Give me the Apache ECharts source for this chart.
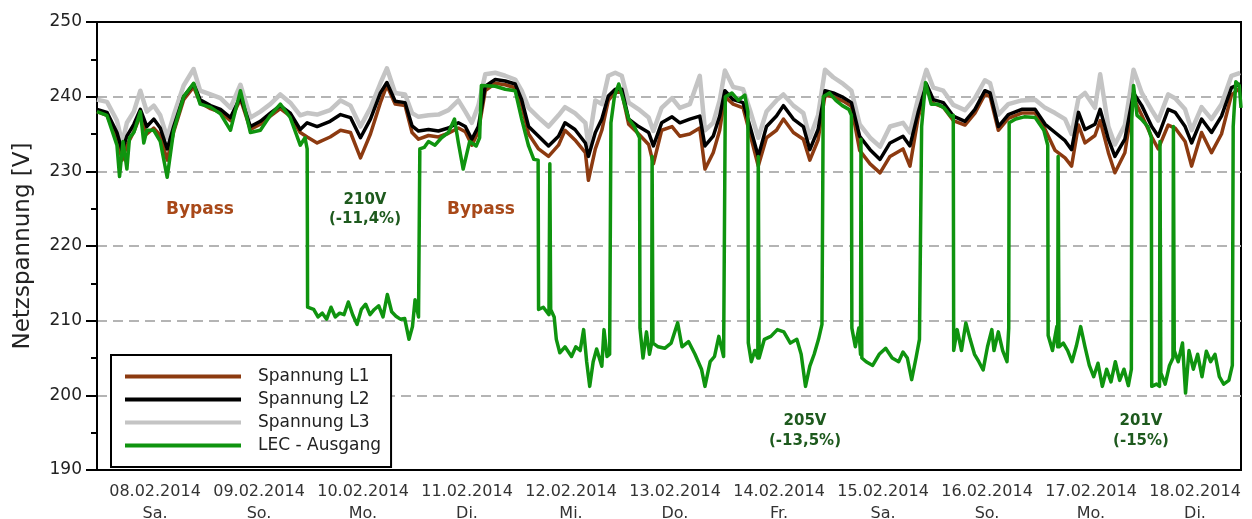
<!DOCTYPE html>
<html>
<head>
<meta charset="utf-8">
<script src="https://cdn.jsdelivr.net/npm/echarts@6/dist/echarts.min.js"></script>
<style>
  html, body { margin: 0; padding: 0; background: #fff; }
  #chart { width: 1252px; height: 519px; }
</style>
</head>
<body>
<div id="chart"></div>
<script>
// hours since 08.02.2014 00:00
const hours = [0, 2.3, 4.6, 5.8, 6.9, 8.5, 10, 11.5, 13.1, 14.6, 16.2, 17.7, 20, 22.3, 23.8, 26.2, 28.5, 30.8, 33.1, 35.4,
  37.7, 40, 42.3, 44.6, 46.9, 48.5, 50.8, 53.8, 56.2, 58.5, 60.8, 63.1, 65.4, 66.9, 68.8, 71.1, 72.7, 74.2, 76.5, 78.8,
  81.1, 83.4, 85, 86.5, 88, 89.6, 91.9, 94.2, 96.5, 98, 99.6, 101.9, 104.2, 106.5, 108, 110.3, 112.7, 113.4, 115, 116.5,
  118, 119.6, 121.1, 122.7, 125, 127.3, 128.4, 130.3, 132.7, 134.5, 136.8, 139.1, 140.3, 142.2, 143.7, 144.9, 146.8, 149.1, 150.7, 152.6,
  154.5, 156.8, 158.4, 160.7, 163, 164.5, 166.4, 168, 169.9, 172.2, 174.1, 176, 178.4, 180.7, 183, 186, 187.6, 189.5, 191.4, 193,
  195.3, 197.6, 200.3, 202.6, 204.9, 206.1, 208, 210.3, 213.4, 216.5, 218.8, 221.1, 223.4, 224.9, 226.5, 228, 230.3, 231.5, 233.4, 234.9,
  237.2, 239.2, 241.1, 243.4, 244.9, 247.2, 248.8, 251.1, 252.6, 254.9, 257.2, 259.5, 261.8, 263.8]

const l1 = [238.0, 237.5, 234.5, 231.5, 233.5, 235.3, 237.5, 235, 235.8, 234.8, 231.5, 235.3, 239.6, 241.3, 239.2, 238.4, 237.9, 236.8, 239.7, 235.6,
  236.3, 237.4, 238.4, 237.4, 235.2, 234.6, 233.8, 234.6, 235.5, 235.2, 231.8, 235, 239.2, 241.5, 239, 238.8, 235.2, 234.3, 234.8, 234.6,
  235.1, 235.8, 235.3, 233.5, 235.3, 240.8, 241.8, 241.6, 241.2, 238.8, 235, 233, 232, 233.5, 235.5, 234.2, 232.5, 228.8, 233, 235.5,
  239.5, 240.6, 240.6, 236.3, 235, 233.6, 231, 235.5, 236, 234.7, 235, 235.8, 230.3, 232.5, 235.5, 240, 239, 238.5, 235, 230.7,
  234.5, 235.5, 237, 235.2, 234.3, 231.5, 234.2, 240.2, 240, 239.4, 238.7, 232.8, 231, 229.8, 232, 233, 230.7, 237.2, 241.2, 239.1,
  238.6, 236.8, 236.2, 237.8, 240.3, 240, 235.5, 237.1, 237.8, 237.8, 235.6, 232.8, 231.8, 230.7, 236.2, 233.8, 234.8, 236.8, 232.5, 229.8,
  232.5, 239.8, 237.5, 234.6, 233, 236.2, 235.8, 234, 230.7, 235.2, 232.5, 235, 240.2, 241.2]

const l2 = [238.3, 237.9, 235.2, 232.8, 234.7, 236.3, 238.3, 236, 237, 235.8, 233, 236, 240, 241.7, 239.6, 238.8, 238.3, 237.2, 240, 236,
  236.7, 237.8, 238.8, 237.8, 235.6, 236.5, 236, 236.7, 237.6, 237.2, 234.5, 237, 240.5, 241.9, 239.4, 239.2, 236.1, 235.4, 235.6, 235.4,
  235.8, 236.5, 236, 234.3, 236, 241.4, 242.3, 242.1, 241.7, 239.6, 236, 234.7, 233.4, 234.7, 236.5, 235.6, 233.8, 232, 235.2, 237,
  240.1, 241, 241, 237, 236, 235.2, 233.4, 236.5, 237.3, 236.5, 237, 237.4, 233.4, 234.7, 237.4, 240.8, 239.6, 239.2, 236, 232,
  236, 237.4, 238.8, 237, 236, 232.9, 235.6, 240.8, 240.5, 239.9, 239.2, 234.7, 232.9, 231.6, 233.8, 234.7, 233.4, 237.9, 241.7, 239.6,
  239.2, 237.4, 236.7, 238.3, 240.8, 240.5, 236, 237.6, 238.3, 238.3, 236.3, 235.2, 234.1, 232.9, 237.9, 235.6, 236.3, 238.3, 234.3, 232,
  234.3, 240.5, 238.8, 236, 234.7, 238.3, 237.9, 236, 233.8, 237, 235.2, 237.4, 241.2, 241.7]

const l3 = [239.6, 239.3, 236.8, 233.8, 236.5, 238.0, 240.8, 238, 238.8, 237.5, 234.5, 237.5, 241.5, 243.7, 240.8, 240.3, 239.8, 238.5, 241.6, 237.2,
  238, 239, 240.3, 239.2, 237.5, 237.8, 237.6, 238.2, 239.5, 238.8, 236, 238.5, 241.8, 243.8, 240.5, 240.3, 237.8, 237.3, 237.5, 237.6,
  238.2, 239.5, 238, 236.5, 238.8, 243, 243.2, 242.8, 242.3, 240.8, 238.5, 237.2, 236, 237.5, 238.6, 237.8, 236.5, 233.5, 239.5, 239,
  242.8, 243.2, 242.8, 239.2, 238.3, 237.2, 235.4, 238.5, 239.8, 238.5, 239, 242.8, 235.5, 236.5, 239.5, 243.5, 241.3, 241, 238.2, 234.5,
  238, 239.5, 240.3, 238.8, 237.8, 234.5, 237.5, 243.6, 242.6, 241.7, 240.8, 236.3, 234.5, 233.3, 236, 236.5, 235.2, 239.8, 243.6, 241.2,
  240.8, 238.9, 238.2, 239.8, 242.2, 241.8, 237.6, 239, 239.5, 239.6, 238.5, 237.8, 237, 235, 239.8, 240.5, 238.5, 243, 236, 233.6,
  236.2, 243.6, 240.5, 238.2, 236.8, 240.3, 239.8, 238.3, 235.5, 238.6, 237, 239, 242.8, 243.2]

const lecHours = [0, 2.3, 4.6, 5.2, 6, 6.9, 7.5, 8.5, 10, 10.8, 11.5, 13.1, 14.6, 16.2, 17.7, 20, 22.3, 23.8, 26.2, 28.5,
  30.8, 33.1, 35.4, 37.7, 40, 42.3, 44.6, 46.9, 48, 48.5, 48.6, 50, 51, 52, 53, 54, 55, 56, 57, 58,
  59, 60, 61, 62, 63, 64, 65, 66, 67, 68, 69, 70, 71, 72, 72.8, 73.4, 74.2, 74.5, 75.5, 76.5,
  78, 79.5, 81.1, 82.5, 83.4, 84.5, 86, 87.5, 88.3, 88.7, 91.9, 94.2, 96.5, 98, 99.6, 100.8, 101.8, 101.9, 103, 104.3,
  104.5, 104.7, 105.5, 106, 106.8, 108, 109.5, 110.5, 111.5, 112.3, 113, 113.7, 114.5, 115.3, 116.5, 117, 117.7, 118.3, 118.6, 119.4,
  120.4, 121.5, 122.7, 124, 125.2, 125.3, 126, 126.8, 127.5, 128, 128.1, 128.3, 129.5, 131, 132.5, 134, 135, 136.5, 138, 139.5,
  140.3, 141.5, 142.5, 143.5, 144.6, 145, 146.5, 148, 149.5, 150.2, 150.3, 151, 151.8, 152.5, 152.6, 152.8, 154, 155.5, 157, 158.5,
  160, 161.5, 162.5, 163.5, 164.5, 165.5, 166.5, 167.3, 167.6, 169, 170.5, 172, 173.5, 174.1, 174.2, 175, 175.8, 176.2, 176.3, 176.5,
  177.5, 179, 180.5, 182, 183.5, 185, 186, 187, 188, 189, 189.8, 190.3, 191.2, 192.5, 194, 195.5, 197, 197.6, 197.7, 198.5,
  199.5, 200.5, 201.5, 202.5, 203.5, 204.5, 205.5, 206.5, 207, 208, 209, 210, 210.4, 210.5, 212, 214, 216.5, 218.5, 219.4, 219.5,
  220.5, 221.5, 221.7, 221.8, 222, 223, 224, 225, 226, 227, 228, 229, 230, 231, 232, 233, 234, 235, 236, 237,
  238, 238.7, 238.8, 239.2, 240, 241, 242.5, 243.3, 243.4, 244.5, 245.2, 245.3, 245.5, 246.5, 247.5, 248.3, 248.4, 248.6, 249.5, 250.5,
  251.2, 252, 253, 254, 255, 256, 257, 258, 259, 260, 261.2, 262, 262.2, 262.8, 263.6, 264]

const lec = [238, 237.5, 233.5, 229.3, 234, 230.3, 234.5, 235.2, 238, 233.8, 235.5, 235.5, 234, 229.2, 235.5, 240, 241.8, 239, 238.6, 237.7,
  235.5, 240.8, 235.2, 235.5, 237.5, 239, 237.2, 233.5, 234.5, 233, 211.8, 211.5, 210.5, 211, 210.2, 211.8, 210.5, 211, 210.8, 212.5,
  210.8, 209.5, 211.5, 212.2, 210.8, 211.5, 212, 210.5, 213.5, 211.2, 210.6, 210.2, 210.3, 207.5, 209.2, 212.8, 210.5, 233, 233.2, 234,
  233.5, 234.5, 235.2, 237, 233.8, 230.3, 234, 233.4, 234.5, 241.5, 241.4, 241, 240.8, 237, 233.4, 231.6, 231.5, 211.5, 211.8, 210.8,
  231, 211.5, 210.5, 207.5, 205.7, 206.5, 205.2, 206.5, 206, 208.8, 204.5, 201.2, 204.5, 206.2, 203.9, 208.8, 205.2, 205.5, 236.5, 240,
  241.7, 239.5, 237, 236, 234.5, 209, 205, 208.5, 205.5, 207, 232, 207, 206.5, 206.3, 207, 209.7, 206.5, 207.2, 205.5, 203.5,
  201.2, 204.5, 205.2, 207.9, 205.2, 240, 240.5, 239.5, 240.2, 238, 207, 204.5, 206, 205, 232, 205, 207.5, 207.9, 208.8, 208.5,
  207, 207.5, 205.5, 201.2, 203.9, 205.5, 207.5, 209.5, 240, 240.5, 239.5, 238.8, 238.3, 237.5, 209, 206.5, 209, 205.5, 234.3, 205,
  204.5, 204, 205.5, 206.3, 205, 204.5, 205.8, 205, 202.1, 205, 207.5, 236, 241.9, 239, 239, 238.5, 237.4, 237.5, 206, 208.8,
  206, 209.7, 207.5, 205.5, 204.5, 203.4, 206.5, 208.8, 206, 208.5, 206, 204.5, 209, 236.5, 237, 237.3, 237.2, 235.5, 233.5, 208,
  206, 209.2, 206.5, 232, 206.5, 207, 206, 204.5, 206.6, 209.2, 206.5, 204, 202.5, 204.3, 201.2, 203.5, 201.8, 204.5, 202, 203.5,
  201.3, 203.5, 237, 241.5, 237.5, 237, 236, 234.5, 201.2, 201.5, 201.2, 234, 203, 201.5, 204, 205, 236, 206, 204.5, 207,
  200.3, 206, 203.5, 205.5, 202.5, 205.9, 204.5, 205.5, 202.5, 201.5, 202, 204, 236, 242, 241.5, 238.5]

const dayLabels = ['08.02.2014', '09.02.2014', '10.02.2014', '11.02.2014', '12.02.2014', '13.02.2014',
  '14.02.2014', '15.02.2014', '16.02.2014', '17.02.2014', '18.02.2014']
const weekdays = ['Sa.', 'So.', 'Mo.', 'Di.', 'Mi.', 'Do.', 'Fr.', 'Sa.', 'So.', 'Mo.', 'Di.']

const FONT = 'DejaVu Sans'
const chart = echarts.init(document.getElementById('chart'))

function line(name, x, y, color, width, z) {
  return {
    name, type: 'line', xAxisIndex: 0, z,
    data: x.map((h, i) => [h, y[i]]),
    symbol: 'none', animation: false,
    lineStyle: { color, width, join: 'round' }, itemStyle: { color }
  }
}

const annoGreen = '#1e5a1e'
const annoBrown = '#a84818'
function label(text, x, y, color, size) {
  return { type: 'text', x, y, style: { text, fill: color, font: 'bold ' + size + 'px "DejaVu Sans"', align: 'center', verticalAlign: 'middle' }, z: 10 }
}

chart.setOption({
  animation: false,
  grid: {
    left: 97, right: 11, top: 22, bottom: 49, outerBoundsMode: 'none',
    show: true, borderColor: '#000', borderWidth: 2
  },
  legend: {
    orient: 'vertical', left: 111, top: 355,
    data: ['Spannung L1', 'Spannung L2', 'Spannung L3', 'LEC - Ausgang'],
    icon: 'rect', itemWidth: 116, itemHeight: 4, itemGap: 4,
    padding: [12, 10, 12, 14],
    backgroundColor: '#fff', borderColor: '#000', borderWidth: 2,
    textStyle: { fontFamily: FONT, fontSize: 17, color: '#222', lineHeight: 19, padding: [0, 0, 0, 12] }
  },
  xAxis: [
    {
      type: 'value', min: 0, max: 264, interval: 24,
      axisLine: { lineStyle: { color: '#000', width: 2 } },
      axisTick: { show: false }, axisLabel: { show: false }, splitLine: { show: false }
    },
    {
      type: 'category', position: 'bottom', data: dayLabels, boundaryGap: true,
      axisLine: { show: false }, axisTick: { show: false },
      axisLabel: {
        interval: 0, margin: 11, fontFamily: FONT, fontSize: 16, color: '#333', lineHeight: 22,
        padding: [0, 0, 0, 12],
        formatter: (v, i) => v + '\n' + weekdays[i]
      }
    }
  ],
  yAxis: {
    type: 'value', min: 190, max: 250, interval: 10,
    name: 'Netzspannung [V]', nameLocation: 'middle', nameGap: 62,
    nameTextStyle: { fontFamily: FONT, fontSize: 23, color: '#222' },
    axisLine: { show: true, lineStyle: { color: '#000', width: 2 } },
    axisTick: { show: true, length: 11, lineStyle: { color: '#000', width: 2 } },
    minorTick: { show: true, splitNumber: 2, length: 6, lineStyle: { color: '#000', width: 2 } },
    axisLabel: { fontFamily: FONT, fontSize: 17, color: '#222', margin: 15 },
    splitLine: { show: true, showMinLine: false, showMaxLine: false, lineStyle: { color: '#b4b4b4', width: 2, type: [10, 6] } }
  },
  series: [
    line('Spannung L1', hours, l1, '#8c3a10', 3.5, 3),
    line('Spannung L2', hours, l2, '#000000', 3.5, 4),
    line('Spannung L3', hours, l3, '#c4c4c4', 4.5, 2),
    line('LEC - Ausgang', lecHours, lec, '#0f940f', 3.5, 5)
  ],
  graphic: [
    label('Bypass', 200, 210, annoBrown, 17),
    label('Bypass', 481, 210, annoBrown, 17),
    label('210V', 365, 200, annoGreen, 15),
    label('(-11,4%)', 365, 219, annoGreen, 15),
    label('205V', 805, 421, annoGreen, 15),
    label('(-13,5%)', 805, 441, annoGreen, 15),
    label('201V', 1141, 421, annoGreen, 15),
    label('(-15%)', 1141, 441, annoGreen, 15)
  ]
})
</script>
</body>
</html>
